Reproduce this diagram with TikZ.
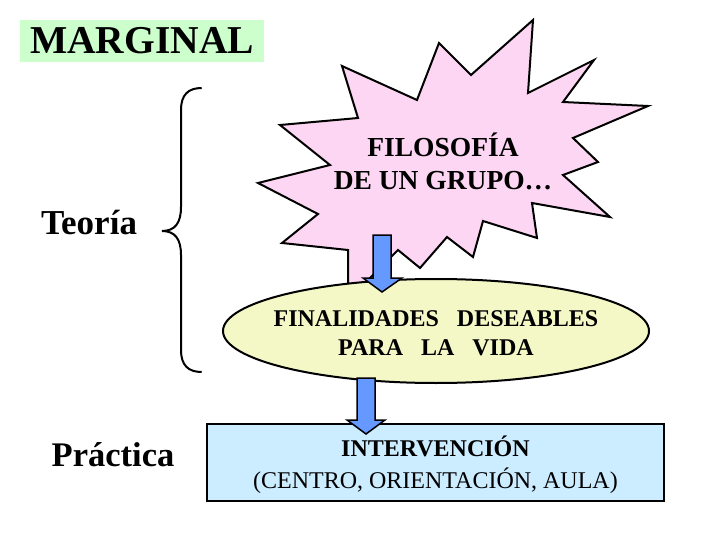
\documentclass[tikz,border=0pt]{standalone}
\usepackage{fontspec}
\setmainfont{Liberation Serif}
\usetikzlibrary{shapes.geometric}
\definecolor{margreen}{RGB}{204,255,204}
\definecolor{starpink}{RGB}{252,214,242}
\definecolor{ellyellow}{RGB}{244,248,198}
\definecolor{boxblue}{RGB}{204,236,255}
\definecolor{arrblue}{RGB}{102,153,255}
\tikzset{
  outline/.style={draw=black, line width=2pt, line join=miter},
  blockarrow/.style={draw=black, line width=1.5pt, fill=arrblue, line join=miter},
  bigtext/.style={font=\bfseries\fontsize{35}{42}\selectfont, inner sep=0pt},
}
\begin{document}
\begin{tikzpicture}[x=1pt,y=-1pt]
\useasboundingbox (0,0) rectangle (720,540);
\fill[white] (0,0) rectangle (720,540);

% MARGINAL label
\node[fill=margreen, minimum width=244pt, minimum height=42pt, inner sep=0pt,
      font=\bfseries\fontsize{39.5}{46}\selectfont] (marg) at (142,41) {MARGINAL};

% Brace
\draw[line width=2pt] (201.7,88) .. controls (188,88) and (181,95) .. (181,110)
  -- (181,207) .. controls (181,223) and (175,231) .. (162,231)
  .. controls (175,231) and (181,239) .. (181,255)
  -- (181,350) .. controls (181,365) and (188,372) .. (201.7,372);

% Side labels
\node[bigtext, anchor=base] (teo) at (89,234) {Teoría};
\node[bigtext, anchor=base, font=\bfseries\fontsize{34.5}{42}\selectfont] (prac) at (113,466) {Práctica};

% Star
\draw[outline, fill=starpink]
  (342,66) -- (417,100) -- (439,43) -- (471,75) -- (533,20) -- (528,93)
  -- (594,60) -- (563,102) -- (648,106) -- (573,138) -- (598,162) -- (563,175)
  -- (610,217) -- (532,203) -- (537,238) -- (483,221) -- (473,257) -- (447,237)
  -- (420,268) -- (398,250) -- (348,300) -- (348,250) -- (282,243) -- (318,214)
  -- (258,183) -- (330,165) -- (280,125) -- (358,118) -- cycle;
\node[align=center, inner sep=0pt, font=\bfseries\fontsize{27.5}{33}\selectfont] (filo) at (443,161)
  {FILOSOFÍA\\DE UN GRUPO…};

% Ellipse
\node[ellipse, outline, fill=ellyellow, minimum width=426pt, minimum height=104pt,
      inner sep=0pt] (fin) at (436,331) {};
\node[align=center, inner sep=0pt, font=\bfseries\fontsize{24}{29}\selectfont] (fintext) at (436,333)
  {FINALIDADES\ \ \ DESEABLES\\PARA\ \ \ LA\ \ \ VIDA};

% Rectangle
\node[rectangle, outline, fill=boxblue, minimum width=457pt, minimum height=77pt,
      inner sep=0pt] (inter) at (435.5,462.5) {};
\node[align=center, inner sep=0pt, font=\fontsize{24}{32}\selectfont] (intertext) at (435.5,465)
  {\textbf{INTERVENCIÓN}\\(CENTRO, ORIENTACIÓN, AULA)};

% Block arrows
\draw[blockarrow] (373,235) -- (391,235) -- (391,278) -- (402,278) -- (382,292)
  -- (363,278) -- (373,278) -- cycle;
\draw[blockarrow] (357,378) -- (375,378) -- (375,420) -- (385,420) -- (366,434)
  -- (347,420) -- (357,420) -- cycle;
\end{tikzpicture}
\end{document}
